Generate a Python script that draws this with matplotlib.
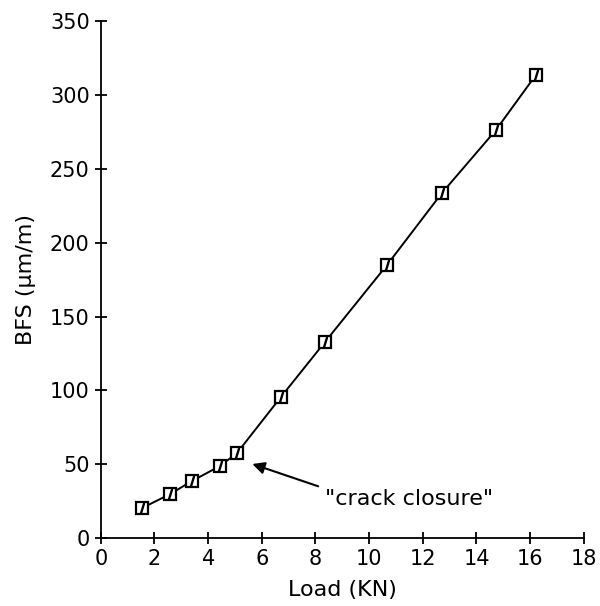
import matplotlib.pyplot as plt

# BFS readings against applied load
load = [1.53, 2.58, 3.39, 4.43, 5.07, 6.71, 8.35, 10.66, 12.71, 14.72, 16.21]
bfs = [20.3, 29.8, 38.6, 48.7, 57.5, 95.5, 132.7, 184.8, 233.6, 276.2, 313.5]

x_ticks = [0, 2, 4, 6, 8, 10, 12, 14, 16, 18]
y_ticks = [0, 50, 100, 150, 200, 250, 300, 350]

fig = plt.figure(figsize=(6, 6.06), dpi=100)
ax = fig.add_axes([0.168, 0.112, 0.805, 0.853])

ax.plot(load, bfs, color='black', lw=1.4, marker='s', ms=8,
        mfc='white', mec='black', mew=1.6)
ax.plot(load, bfs, ls='none', marker='$/$', ms=7, color='black')

ax.annotate('', xy=(5.55, 50.8), xytext=(8.2, 34.5),
            arrowprops=dict(arrowstyle='-|>', color='black', lw=1.5,
                            mutation_scale=18))
ax.text(8.35, 26.4, '"crack closure"', fontsize=16, ha='left', va='center')

ax.set_xlim(0, 18)
ax.set_ylim(0, 350)
ax.set_xticks(x_ticks)
ax.set_yticks(y_ticks)
ax.tick_params(direction='inout', length=9, width=1.3, labelsize=15)
ax.spines['top'].set_visible(False)
ax.spines['right'].set_visible(False)
ax.spines['left'].set_linewidth(1.3)
ax.spines['bottom'].set_linewidth(1.3)

ax.set_xlabel('Load (KN)', fontsize=16, labelpad=8)
ax.set_ylabel('BFS (μm/m)', fontsize=16, labelpad=10)

fig.savefig('out.png', dpi=100)
